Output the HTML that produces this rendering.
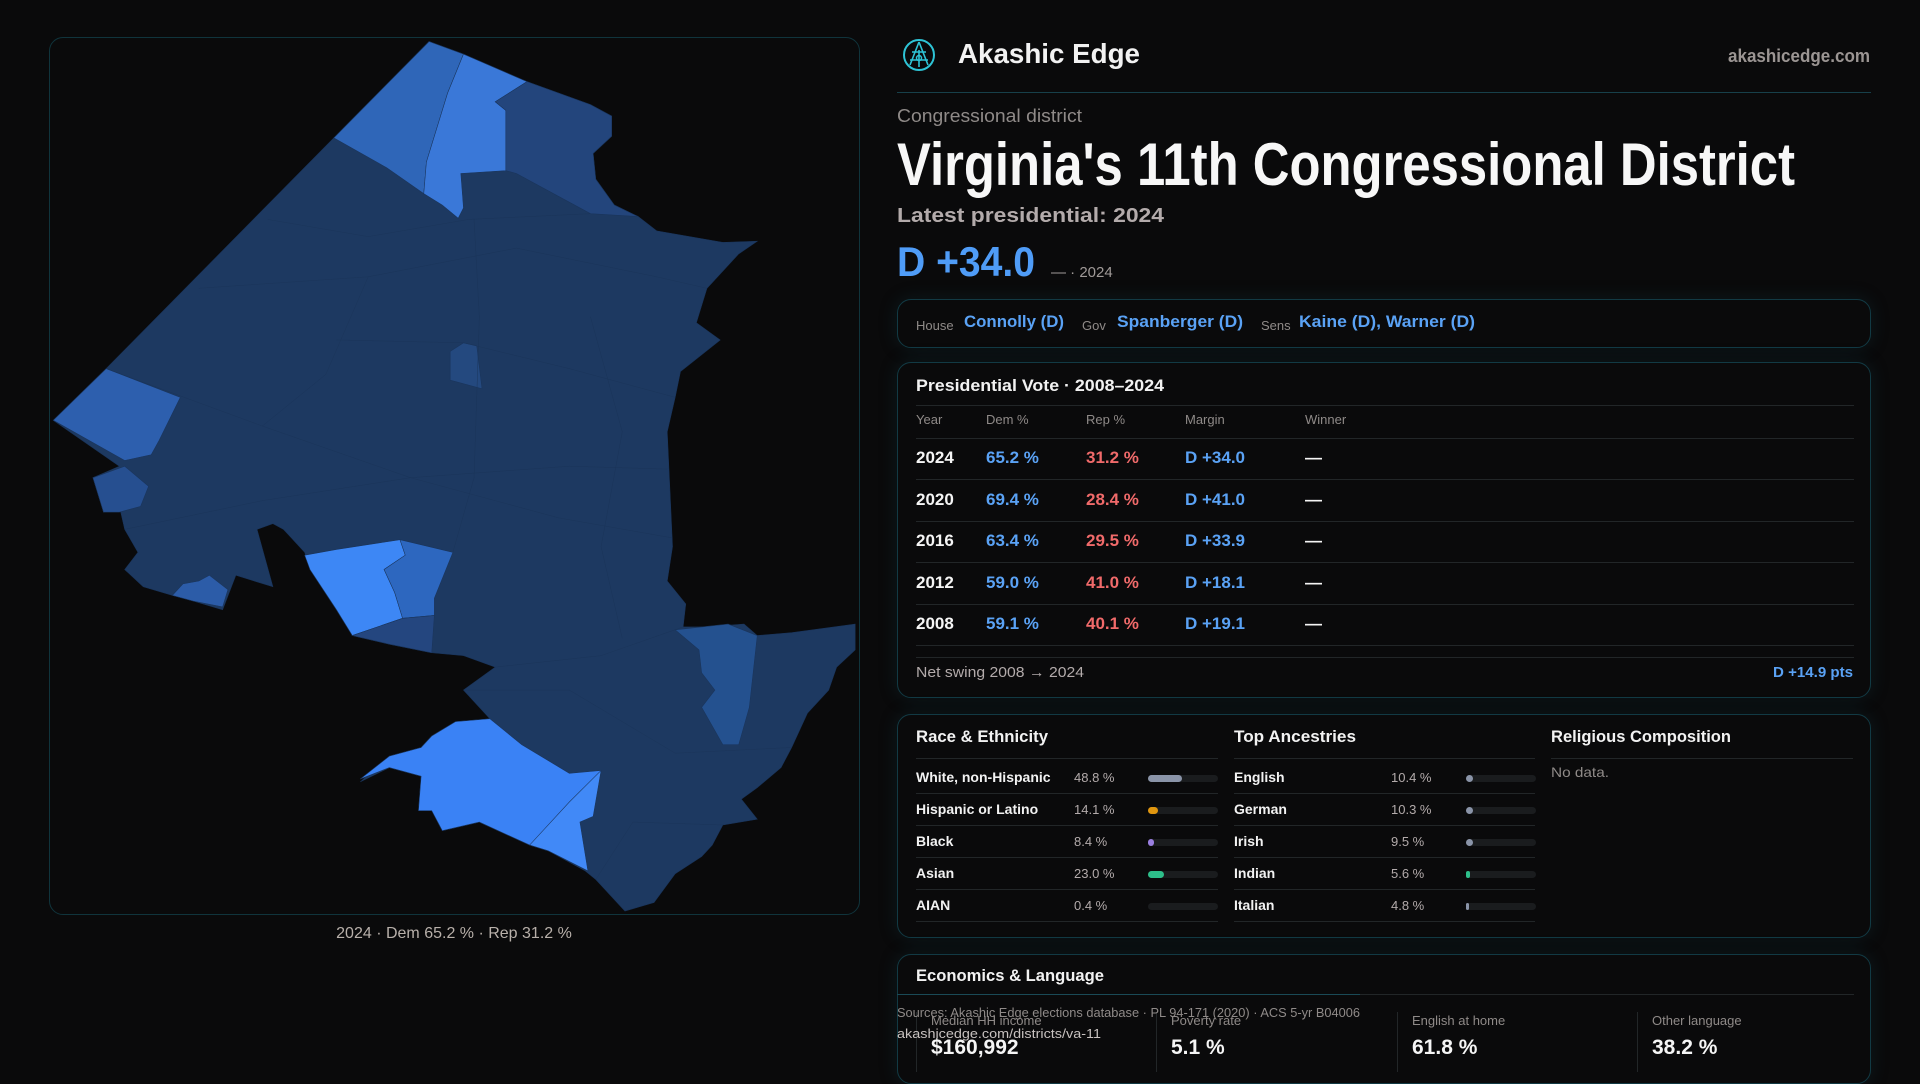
<!DOCTYPE html>
<html><head><meta charset="utf-8">
<style>
*{box-sizing:border-box;margin:0;padding:0}
body{width:1920px;height:1080px;background:#0a0a0b;font-family:"Liberation Sans",sans-serif;color:#f2f2f2;position:relative;overflow:hidden}
.abs{position:absolute;white-space:nowrap}
.fit{display:inline-block;transform-origin:0 50%}
.box{position:absolute;border:1px solid #123a44;border-radius:14px;background:#0a0a0b;box-shadow:0 0 18px rgba(20,70,85,0.25)}
.blue{color:#5aa2f5}.red{color:#f06a6a}.grey{color:#8f8a88}
.hline{position:absolute;height:1px;background:#222628}
.vline{position:absolute;width:1px;background:#222628}
</style></head><body>

<div class="box" style="left:49px;top:37px;width:811px;height:878px;box-shadow:none;border-color:#10343c"></div>
<svg class="abs" style="left:40px;top:30px" width="830" height="900" viewBox="0 0 1568 1568" preserveAspectRatio="none">
<g stroke="#1a355c" stroke-width="1">
<polygon fill="#1d3961" points="735,20 800,42 920,90 1040,130 1080,150 1080,185 1045,215 1050,260 1085,305 1130,325 1165,350 1290,370 1355,368 1320,390 1290,420 1260,450 1240,510 1285,540 1210,595 1200,640 1185,700 1190,800 1195,900 1185,960 1220,1000 1215,1040 1260,1040 1330,1035 1355,1055 1420,1050 1540,1035 1540,1080 1505,1110 1490,1150 1450,1190 1420,1250 1400,1285 1355,1320 1325,1340 1355,1375 1290,1385 1270,1420 1250,1440 1200,1470 1160,1520 1105,1535 1050,1480 1030,1465 960,1430 925,1420 830,1380 760,1395 740,1360 715,1360 720,1300 660,1285 605,1310 660,1265 720,1250 740,1230 785,1205 850,1200 800,1150 860,1110 800,1090 740,1085 660,1070 590,1055 560,1010 510,940 500,910 470,880 460,870 440,860 410,870 440,970 370,950 345,1010 290,995 250,985 195,970 160,940 185,910 160,870 150,830 120,840 100,780 150,760 25,680 125,590 555,188"/>
<polygon fill="#2f66b8" points="555,188 735,20 800,42 770,110 730,230 725,285 655,240"/>
<polygon fill="#3a78d8" points="800,42 920,90 860,125 880,140 880,245 795,250 800,310 790,328 760,305 725,285 730,230 770,110"/>
<polygon fill="#23457c" points="920,90 1040,130 1080,150 1080,185 1045,215 1050,260 1085,305 1130,325 1040,320 900,250 880,245 880,140 860,125"/>
<polygon fill="#2d5fae" points="25,680 125,590 265,640 225,715 210,740 160,750"/>
<polygon fill="#264f90" points="100,780 160,760 205,795 190,830 150,840 120,840"/>
<polygon fill="#2c5ca8" points="250,985 270,965 300,960 320,950 355,975 345,1005 290,995"/>
<polygon fill="#24497f" points="800,545 825,550 835,625 775,610 775,560"/>
<polygon fill="#3d87f5" points="500,915 560,905 680,888 690,915 650,940 670,980 685,1025 590,1055 560,1010 510,940"/>
<polygon fill="#2d67bf" points="680,888 780,910 745,990 745,1020 685,1025 670,980 650,940 690,915"/>
<polygon fill="#24467f" points="590,1055 685,1025 745,1020 740,1085 660,1070"/>
<polygon fill="#3a82f5" points="605,1305 660,1265 720,1250 740,1230 785,1205 850,1200 910,1245 1000,1295 1060,1290 1040,1330 1010,1345 925,1420 830,1380 760,1395 740,1360 715,1360 720,1300 660,1285"/>
<polygon fill="#4189f7" points="1000,1345 1060,1290 1045,1370 1020,1380 1035,1465 960,1430 925,1420"/>
<polygon fill="#24518f" points="1200,1045 1300,1035 1355,1055 1340,1180 1320,1245 1290,1245 1250,1180 1275,1150 1250,1120 1245,1080"/>
</g>
<g stroke="#1a3459" stroke-width="0.8" fill="none">
<polyline points="125,590 420,690 700,780 980,850 1195,885"/>
<polyline points="160,870 420,820 700,780 1000,760 1185,765"/>
<polyline points="300,450 620,430 900,380 1165,430 1260,450"/>
<polyline points="430,330 620,360 810,330 1040,320"/>
<polyline points="560,540 800,545 1000,590 1200,640"/>
<polyline points="800,1150 1000,1150 1200,1260 1420,1250"/>
<polyline points="860,1110 1060,1090 1215,1040"/>
<polyline points="1050,1480 1120,1380 1290,1385"/>
<polyline points="620,430 540,600 420,690"/>
<polyline points="820,330 830,500 820,780 780,910"/>
<polyline points="1040,500 1100,700 1060,900 1100,1060"/>
</g>
</svg>
<div class="abs grey" style="left:0;width:908px;top:925px;text-align:center;font-size:16px;color:#b8b0aa">2024 · Dem 65.2 % · Rep 31.2 %</div>

<svg class="abs" style="left:902px;top:38px" width="34" height="34" viewBox="0 0 34 34">
<circle cx="17" cy="17" r="15" fill="none" stroke="#2ec4d6" stroke-width="2"/>
<path d="M17 4 L8 27 M17 4 L26 27 M10 14 L24 14 M8 22 L26 22 M17 12 L17 29" stroke="#2ec4d6" stroke-width="1.6" fill="none"/>
<circle cx="17" cy="20" r="2.5" fill="none" stroke="#2ec4d6" stroke-width="1.5"/>
</svg>
<div class="abs" style="left:958px;top:38px;font-size:28px;font-weight:bold"><span class="fit" data-w="182">Akashic Edge</span></div>
<div class="abs" style="left:1728px;top:46px;font-size:18px;font-weight:bold;color:#9b9593"><span class="fit" data-w="142">akashicedge.com</span></div>
<div class="hline" style="left:897px;top:92px;width:974px;background:#17404a"></div>

<div class="abs" style="left:897px;top:106px;font-size:18px;color:#8f8a88"><span class="fit" data-w="185">Congressional district</span></div>
<div class="abs" style="left:897px;top:130px;font-size:60px;font-weight:bold;color:#f7f7f7"><span class="fit" data-w="898">Virginia's 11th Congressional District</span></div>
<div class="abs" style="left:897px;top:205px;font-size:20px;font-weight:bold;color:#b3abab"><span class="fit" data-w="267">Latest presidential: 2024</span></div>
<div class="abs blue" style="left:897px;top:238px;font-size:42px;font-weight:bold;color:#4f9cf7"><span class="fit" data-w="138">D +34.0</span></div>
<div class="abs" style="left:1051px;top:264px;font-size:15px;color:#a09a98">— · 2024</div>

<div class="box" style="left:897px;top:299px;width:974px;height:49px"></div>
<div class="abs grey" style="left:916px;top:318px;font-size:13px">House</div>
<div class="abs blue" style="left:964px;top:312px;font-size:17px;font-weight:bold"><span class="fit" data-w="100">Connolly (D)</span></div>
<div class="abs grey" style="left:1082px;top:318px;font-size:13px">Gov</div>
<div class="abs blue" style="left:1117px;top:312px;font-size:17px;font-weight:bold"><span class="fit" data-w="126">Spanberger (D)</span></div>
<div class="abs grey" style="left:1261px;top:318px;font-size:13px">Sens</div>
<div class="abs blue" style="left:1299px;top:312px;font-size:17px;font-weight:bold"><span class="fit" data-w="176">Kaine (D), Warner (D)</span></div>

<div class="box" style="left:897px;top:362px;width:974px;height:336px"></div>
<div class="abs" style="left:916px;top:376px;font-size:17px;font-weight:bold"><span class="fit" data-w="248">Presidential Vote · 2008–2024</span></div>
<div class="hline" style="left:916px;top:405px;width:938px"></div>
<div id="pres"></div>
<div class="hline" style="left:916px;top:657px;width:938px"></div>
<div class="abs" style="left:916px;top:664px;font-size:15px;color:#b3abab"><span class="fit" data-w="168">Net swing 2008 → 2024</span></div>
<div class="abs blue" style="left:1773px;top:664px;font-size:15px;font-weight:bold"><span class="fit" data-w="80">D +14.9 pts</span></div>

<div class="box" style="left:897px;top:714px;width:974px;height:224px"></div>
<div class="abs" style="left:916px;top:727px;font-size:17px;font-weight:bold"><span class="fit" data-w="132">Race &amp; Ethnicity</span></div>
<div class="abs" style="left:1234px;top:727px;font-size:17px;font-weight:bold"><span class="fit" data-w="122">Top Ancestries</span></div>
<div class="abs" style="left:1551px;top:727px;font-size:17px;font-weight:bold"><span class="fit" data-w="180">Religious Composition</span></div>
<div class="hline" style="left:916px;top:758px;width:302px"></div>
<div class="hline" style="left:1234px;top:758px;width:301px"></div>
<div class="hline" style="left:1551px;top:758px;width:302px"></div>
<div class="abs grey" style="left:1551px;top:764px;font-size:14px"><span class="fit" data-w="58">No data.</span></div>
<div id="demo"></div>

<div class="box" style="left:897px;top:954px;width:974px;height:130px"></div>
<div class="abs" style="left:916px;top:966px;font-size:17px;font-weight:bold"><span class="fit" data-w="188">Economics &amp; Language</span></div>
<div class="hline" style="left:916px;top:994px;width:938px"></div>
<div class="hline" style="left:897px;top:994px;width:463px;background:#1a4a56"></div>
<div id="econ"></div>
<div class="abs" style="left:897px;top:1005px;font-size:13px;color:#8f8a88"><span class="fit" data-w="463">Sources: Akashic Edge elections database · PL 94-171 (2020) · ACS 5-yr B04006</span></div>
<div class="abs" style="left:897px;top:1026px;font-size:13px;color:#c8c2c0"><span class="fit" data-w="204">akashicedge.com/districts/va-11</span></div>

<script>
// Presidential data
const years = ["2024","2020","2016","2012","2008"];
const demPct = [65.2, 69.4, 63.4, 59.0, 59.1];
const repPct = [31.2, 28.4, 29.5, 41.0, 40.1];
const margins = ["D +34.0","D +41.0","D +33.9","D +18.1","D +19.1"];
const presHeaders = ["Year","Dem %","Rep %","Margin","Winner"];
// Demographics data
const raceLabels = ["White, non-Hispanic","Hispanic or Latino","Black","Asian","AIAN"];
const raceValues = [48.8, 14.1, 8.4, 23.0, 0.4];
const ancestryLabels = ["English","German","Irish","Indian","Italian"];
const ancestryValues = [10.4, 10.3, 9.5, 5.6, 4.8];
// Economics data
const econLabels = ["Median HH income","Poverty rate","English at home","Other language"];
const econValues = ["$160,992","5.1 %","61.8 %","38.2 %"];

const raceColors = ["#8a94a8","#e0960f","#9a7fe0","#2dbf8a","#8a94a8"];
const ancColors = ["#8a94a8","#8a94a8","#8a94a8","#2dbf8a","#8a94a8"];

function txt(parent, name, x, y, s, size, color, bold){
  const d = document.createElement('div');
  d.className = 'abs';
  
  
  d.style.left = x + 'px'; d.style.top = y + 'px';
  d.style.fontSize = size + 'px'; d.style.color = color;
  if (bold) d.style.fontWeight = 'bold';
  d.textContent = s;
  parent.appendChild(d);
  return d;
}
function line(parent, name, x, y, w){
  const d = document.createElement('div');
  d.className = 'hline';
  
  
  d.style.left = x + 'px'; d.style.top = y + 'px'; d.style.width = w + 'px';
  parent.appendChild(d);
}
const pres = document.getElementById('pres');
const colX = [916, 986, 1086, 1185, 1305];
presHeaders.forEach((h, i) => {
  txt(pres, 'pres-header-' + i, colX[i], 412, h, 13, '#8f8a88', false);
});
line(pres, 'pres-header-divider', 916, 438, 938);
const rowY = (i) => 458 + i * 41.6;
years.forEach((yr, i) => {
  const y = rowY(i) - 10;
  txt(pres, 'pres-year-' + yr, colX[0], y, yr, 17, '#f5f5f5', true);
  txt(pres, 'pres-dem-' + yr, colX[1], y, demPct[i].toFixed(1) + ' %', 17, '#5aa2f5', true);
  txt(pres, 'pres-rep-' + yr, colX[2], y, repPct[i].toFixed(1) + ' %', 17, '#f06a6a', true);
  txt(pres, 'pres-margin-' + yr, colX[3], y, margins[i], 17, '#5aa2f5', true);
  txt(pres, 'pres-winner-' + yr, colX[4], y, '—', 17, '#f5f5f5', true);
  line(pres, 'pres-row-divider', 916, rowY(i) + 21, 938);
});

const demo = document.getElementById('demo');
function barScale(v, w){ return Math.max(3, v / 100 * w); }
function drawCol(labels, values, colors, x0, valX, barX, prefix){
  labels.forEach((lab, i) => {
    const cy = 778 + i * 32;
    txt(demo, prefix + '-label', x0, cy - 9, lab, 14, '#f2f2f2', true);
    txt(demo, prefix + '-value', valX, cy - 8, values[i].toFixed(1) + ' %', 13, '#b3abab', false);
    const track = document.createElement('div');
    
    
    track.style.cssText = 'position:absolute;left:' + barX + 'px;top:' + (cy - 3) + 'px;width:70px;height:7px;border-radius:4px;background:#1a1c1e';
    demo.appendChild(track);
    const bar = document.createElement('div');
    
    
    bar.style.cssText = 'position:absolute;left:' + barX + 'px;top:' + (cy - 3) + 'px;height:7px;border-radius:4px;background:' + colors[i] + ';width:' + barScale(values[i], 70) + 'px';
    if (values[i] < 1) bar.style.opacity = '0';
    demo.appendChild(bar);
    line(demo, prefix + '-row-divider', x0, cy + 15, x0 === 916 ? 302 : 301);
  });
}
drawCol(raceLabels, raceValues, raceColors, 916, 1074, 1148, 'race');
drawCol(ancestryLabels, ancestryValues, ancColors, 1234, 1391, 1466, 'ancestry');

const econ = document.getElementById('econ');
const econX = [931, 1171, 1412, 1652];
econLabels.forEach((lab, i) => {
  txt(econ, 'econ-label', econX[i], 1013, lab, 13, '#8f8a88', false);
  txt(econ, 'econ-value', econX[i], 1036, econValues[i], 21, '#f5f5f5', true);
  const v = document.createElement('div');
  v.className = 'vline';
  
  
  v.style.left = (econX[i] - 15) + 'px'; v.style.top = '1012px'; v.style.height = '60px';
  econ.appendChild(v);
});

document.querySelectorAll('.fit').forEach(el => {
  const target = +el.getAttribute('data-w');
  const w = el.getBoundingClientRect().width;
  if (w > 0 && target) el.style.transform = 'scaleX(' + (target / w) + ')';
});
</script>
</body></html>
